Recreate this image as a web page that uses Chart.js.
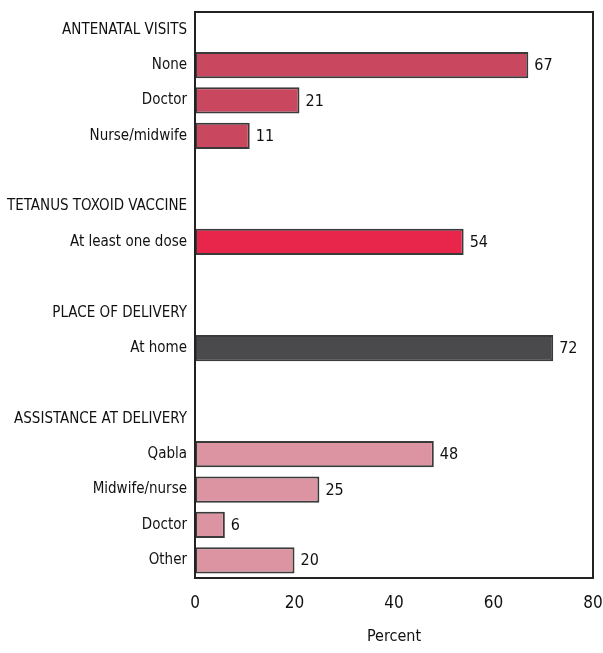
<!DOCTYPE html>
<html>
<head>
<meta charset="utf-8">
<script src="https://cdn.jsdelivr.net/npm/chart.js@4/dist/chart.umd.min.js"></script>
<style>
  html, body { margin: 0; padding: 0; background: #fff; }
  #wrap { width: 603px; height: 653px; }
</style>
</head>
<body>
<div id="wrap"><canvas id="chart" width="603" height="653"></canvas></div>
<script>
const categories = [
  'ANTENATAL VISITS', 'None', 'Doctor', 'Nurse/midwife', '',
  'TETANUS TOXOID VACCINE', 'At least one dose', '',
  'PLACE OF DELIVERY', 'At home', '',
  'ASSISTANCE AT DELIVERY', 'Qabla', 'Midwife/nurse', 'Doctor', 'Other'
];
const percents = [null, 67, 21, 11, null, null, 54, null, null, 72, null, null, 48, 25, 6, 20];
const xTicks = [0, 20, 40, 60, 80];

const barColors = [
  null, '#c9485f', '#c9485f', '#c9485f', null,
  null, '#e8264b', null,
  null, '#4a4a4c', null,
  null, '#dc94a3', '#dc94a3', '#dc94a3', '#dc94a3'
];

const FONT = '"Liberation Sans Narrow", "DejaVu Sans Condensed", "Liberation Sans", sans-serif';

const ctx = document.querySelector('#chart').getContext('2d');

const valueLabels = {
  id: 'valueLabels',
  afterDatasetsDraw(chart) {
    const c = chart.ctx;
    const meta = chart.getDatasetMeta(0);
    c.save();
    c.font = '16px ' + FONT;
    c.fillStyle = '#111';
    c.textBaseline = 'middle';
    meta.data.forEach((bar, i) => {
      const v = percents[i];
      if (v === null) return;
      c.fillText(String(v), bar.x + 6, bar.y + 1);
    });
    c.restore();
  }
};

const frame = {
  id: 'frame',
  afterDraw(chart) {
    const a = chart.chartArea;
    const c = chart.ctx;
    c.save();
    c.strokeStyle = '#222';
    c.lineWidth = 2;
    c.beginPath();
    c.moveTo(a.left, a.top);
    c.lineTo(a.right, a.top);
    c.lineTo(a.right, a.bottom);
    c.lineTo(a.left, a.bottom);
    c.closePath();
    c.stroke();
    c.restore();
  }
};

const initChart = () => {
  new Chart(ctx, {
    type: 'bar',
    data: {
      labels: categories,
      datasets: [{
        data: percents,
        backgroundColor: barColors,
        borderColor: '#3a3a3a',
        borderWidth: 2,
        borderSkipped: false,
        categoryPercentage: 0.74,
        barPercentage: 1,
      }],
    },
    options: {
      indexAxis: 'y',
      responsive: false,
      animation: false,
      layout: {
        padding: { top: 12, right: 10, left: 0, bottom: 0 },
      },
      scales: {
        x: {
          min: 0,
          max: 80,
          afterBuildTicks: (axis) => {
            axis.ticks = xTicks.map((v) => ({ value: v }));
          },
          afterFit: (axis) => {
            axis.height = 75;
            axis.paddingLeft = 0;
            axis.paddingRight = 0;
          },
          grid: { display: false, drawTicks: false },
          border: { display: false },
          ticks: {
            padding: 15,
            color: '#111',
            font: { family: FONT, size: 17 },
          },
          title: {
            display: true,
            text: 'Percent',
            color: '#111',
            font: { family: FONT, size: 16 },
            padding: { top: 5, bottom: 7 },
          },
        },
        y: {
          afterFit: (axis) => {
            axis.width = 195;
            axis.paddingTop = 0;
            axis.paddingBottom = 0;
          },
          grid: { display: false, drawTicks: false },
          border: { display: false },
          ticks: {
            padding: 8,
            color: '#111',
            font: { family: FONT, size: 15 },
          },
        },
      },
      plugins: {
        legend: { display: false },
        tooltip: { enabled: false },
      },
    },
    plugins: [valueLabels, frame],
  });
};

initChart();
</script>
</body>
</html>
